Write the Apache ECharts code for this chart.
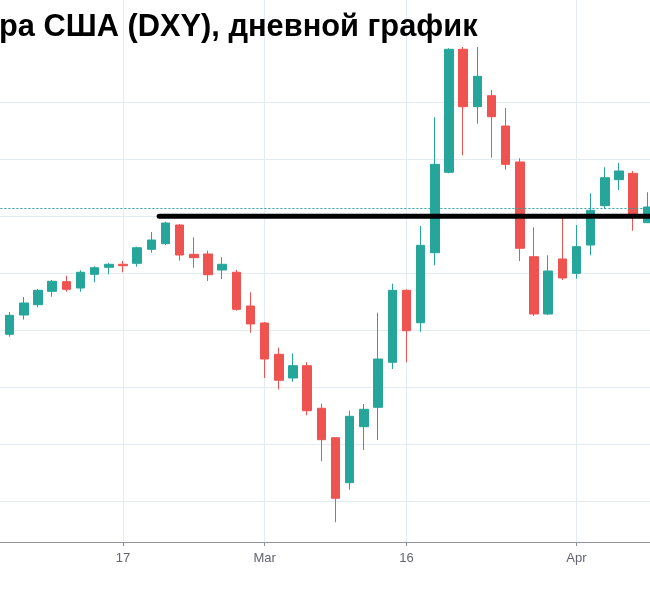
<!DOCTYPE html>
<html>
<head>
<meta charset="utf-8">
<script src="https://cdn.jsdelivr.net/npm/echarts@6/dist/echarts.min.js"></script>
<style>
html,body{margin:0;padding:0;background:#fff;}
#chart{width:650px;height:600px;}
</style>
</head>
<body>
<div id="chart"></div>
<script>
// Trading days (weekdays) shown in the picture
const dates = [
  '2020-02-04','2020-02-05','2020-02-06','2020-02-07',
  '2020-02-10','2020-02-11','2020-02-12','2020-02-13','2020-02-14',
  '2020-02-17','2020-02-18','2020-02-19','2020-02-20','2020-02-21',
  '2020-02-24','2020-02-25','2020-02-26','2020-02-27','2020-02-28',
  '2020-03-02','2020-03-03','2020-03-04','2020-03-05','2020-03-06',
  '2020-03-09','2020-03-10','2020-03-11','2020-03-12','2020-03-13',
  '2020-03-16','2020-03-17','2020-03-18','2020-03-19','2020-03-20',
  '2020-03-23','2020-03-24','2020-03-25','2020-03-26','2020-03-27',
  '2020-03-30','2020-03-31','2020-04-01','2020-04-02','2020-04-03',
  '2020-04-06','2020-04-07','2020-04-08'
];
// next trading day, only used so the time axis runs to the picture's right edge
const axisTail = ['2020-04-09'];

const openVals = [97.795,97.930,98.268,98.449,98.684,98.853,98.742,98.982,99.105,
  99.158,99.175,99.421,99.519,99.847,99.333,99.339,99.058,99.018,98.426,
  98.128,97.579,97.163,97.379,96.632,96.116,95.326,96.309,96.649,97.439,
  98.702,98.133,99.361,100.772,102.930,101.923,102.116,101.584,100.953,99.291,
  98.286,99.251,99.000,99.496,100.186,100.642,100.754,99.888];
const closeVals = [97.930,98.263,98.479,98.702,98.860,98.719,99.018,99.098,99.158,
  99.133,99.449,99.584,99.882,99.321,99.274,98.975,99.158,98.368,98.111,
  97.496,97.123,97.379,96.589,96.081,95.053,96.491,96.614,97.496,98.702,
  97.993,99.491,100.912,102.930,101.923,102.456,101.747,100.912,99.439,98.286,
  99.040,98.918,99.467,100.105,100.677,100.795,100.040,100.163];
const lowVals = [97.760,97.888,98.186,98.404,98.589,98.677,98.677,98.842,98.982,
  99.018,99.116,99.361,99.496,99.221,99.098,98.865,98.900,98.344,97.958,
  97.163,96.965,97.098,96.509,95.702,94.632,95.204,95.900,96.075,97.321,
  97.439,97.975,99.140,100.754,101.070,101.625,101.028,100.818,99.216,98.251,
  98.268,98.882,98.905,99.316,100.133,100.461,99.747,99.882];
const highVals = [97.970,98.321,98.584,98.725,98.882,98.958,99.053,99.123,99.181,
  99.216,99.467,99.725,99.905,99.865,99.632,99.396,99.281,99.058,98.667,
  98.146,97.695,97.596,97.439,96.712,96.116,96.589,96.707,98.309,98.818,
  98.720,99.830,101.737,102.950,102.970,102.970,102.216,101.900,101.018,99.807,
  99.316,99.970,99.847,100.404,100.860,100.935,100.795,100.421];

// Axis tick labels
const labelDates = ['2020-02-17','2020-03-02','2020-03-16','2020-04-01'];
const labelTexts = ['17','Mar','16','Apr'];

// Price lines
const lastPrice = 100.137;
const levelPrice = 100.0;
const levelStartIndex = 11.55;
const levelEndIndex = 47;

const titleText = 'ра США (DXY), дневной график';

const UP = '#26a69a', DOWN = '#ef5350', GRIDC = '#e4ebf1', AXISC = '#8f929b';

const candleData = dates.map((d, i) => [openVals[i], closeVals[i], lowVals[i], highVals[i]]);
const axisDates = dates.concat(axisTail);
const isLabel = (idx, val) => labelDates.indexOf(val) >= 0;

// layout: one trading day = BAND px; first day centred at X0
const BAND = 14.17, X0 = -4.5, W = 650;
const N = dates.length;
const candleLeft = X0 - BAND / 2;
const candleRight = W - (candleLeft + N * BAND);
const axisLeft = X0;
const axisRight = W - (X0 + (axisDates.length - 1) * BAND);

const chart = echarts.init(document.getElementById('chart'), null, {renderer: 'canvas'});
chart.setOption({
  backgroundColor: '#ffffff',
  animation: false,
  title: {
    text: titleText,
    left: -1,
    top: 12,
    padding: 0,
    textStyle: {fontFamily: 'Liberation Sans', fontWeight: 'bold', fontSize: 30.8, color: '#000'}
  },
  grid: [
    {left: candleLeft, right: candleRight, top: 45.3, bottom: 41.7, outerBoundsMode: 'none', containLabel: false},
    {left: axisLeft, right: axisRight, top: 0, bottom: 58, outerBoundsMode: 'none', containLabel: false}
  ],
  xAxis: [
    {type: 'category', gridIndex: 0, data: dates, boundaryGap: true, show: false},
    {type: 'value', gridIndex: 0, min: -0.5, max: N - 0.5, show: false},
    {
      type: 'category', gridIndex: 1, data: axisDates, boundaryGap: false,
      axisLine: {lineStyle: {color: AXISC, width: 1}},
      axisTick: {show: true, interval: isLabel, length: 4, lineStyle: {color: AXISC}},
      splitLine: {show: true, interval: isLabel, lineStyle: {color: GRIDC, width: 1}},
      axisLabel: {
        interval: isLabel,
        formatter: (v) => labelTexts[labelDates.indexOf(v)],
        color: '#62656f', fontSize: 13, fontFamily: 'Liberation Sans', margin: 10
      }
    }
  ],
  yAxis: [
    {
      type: 'value', gridIndex: 0, min: 94, max: 103, interval: 1, scale: true,
      axisLine: {show: false}, axisTick: {show: false}, axisLabel: {show: false},
      splitLine: {show: true, showMinLine: false, showMaxLine: false, lineStyle: {color: GRIDC, width: 1}}
    },
    {type: 'value', gridIndex: 1, show: false, splitLine: {show: false}}
  ],
  series: [
    {
      type: 'candlestick',
      xAxisIndex: 0, yAxisIndex: 0,
      data: candleData,
      barWidth: 9,
      itemStyle: {color: UP, color0: DOWN, borderColor: UP, borderColor0: DOWN, borderWidth: 1},
      markLine: {
        silent: true, symbol: ['none', 'none'],
        label: {show: false},
        lineStyle: {color: UP, type: [2, 2], width: 1},
        data: [{yAxis: lastPrice}]
      },
      z: 2
    },
    {
      type: 'line',
      xAxisIndex: 1, yAxisIndex: 0,
      data: [[levelStartIndex, levelPrice], [levelEndIndex, levelPrice]],
      showSymbol: false, symbol: 'none',
      lineStyle: {color: '#000', width: 5, cap: 'round'},
      silent: true,
      z: 5
    }
  ]
});
</script>
</body>
</html>
